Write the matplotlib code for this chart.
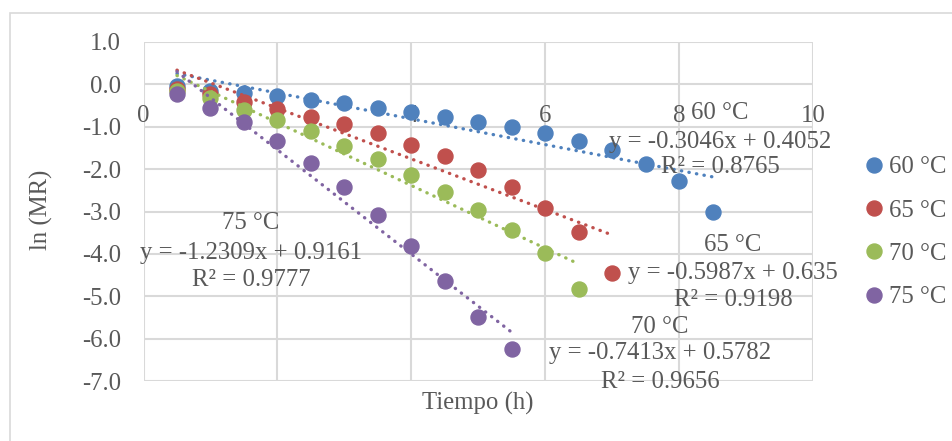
import matplotlib
matplotlib.use("Agg")
import matplotlib.pyplot as plt
import numpy as np
from matplotlib.patches import Rectangle

plt.rcParams['font.family'] = ['Liberation Serif', 'DejaVu Serif']
plt.rcParams['axes.unicode_minus'] = False

# ---- data ----
labels = ['60 °C', '65 °C', '70 °C', '75 °C']
colors = ['#4F81BD', '#C0504D', '#9BBB59', '#8064A2']
x60 = [0.5, 1.0, 1.5, 2.0, 2.5, 3.0, 3.5, 4.0, 4.5, 5.0, 5.5, 6.0, 6.5, 7.0, 7.5, 8.0, 8.5]
y60 = [-0.05, -0.16, -0.20, -0.27, -0.37, -0.44, -0.55, -0.65, -0.77, -0.88, -1.01, -1.15, -1.33, -1.56, -1.89, -2.28, -3.02]
x65 = [0.5, 1.0, 1.5, 2.0, 2.5, 3.0, 3.5, 4.0, 4.5, 5.0, 5.5, 6.0, 6.5, 7.0]
y65 = [-0.10, -0.23, -0.41, -0.58, -0.76, -0.94, -1.15, -1.43, -1.70, -2.03, -2.42, -2.91, -3.49, -4.44]
x70 = [0.5, 1.0, 1.5, 2.0, 2.5, 3.0, 3.5, 4.0, 4.5, 5.0, 5.5, 6.0, 6.5]
y70 = [-0.15, -0.31, -0.60, -0.84, -1.11, -1.46, -1.77, -2.13, -2.55, -2.96, -3.43, -3.98, -4.83]
x75 = [0.5, 1.0, 1.5, 2.0, 2.5, 3.0, 3.5, 4.0, 4.5, 5.0, 5.5]
y75 = [-0.23, -0.55, -0.88, -1.33, -1.86, -2.43, -3.08, -3.82, -4.64, -5.50, -6.24]
slopes = [-0.3046, -0.5987, -0.7413, -1.2309]
intercepts = [0.4052, 0.635, 0.5782, 0.9161]
r2 = [0.8765, 0.9198, 0.9656, 0.9777]
xticks = [0, 2, 4, 6, 8, 10]
yticks = [1.0, 0.0, -1.0, -2.0, -3.0, -4.0, -5.0, -6.0, -7.0]

xs = [x60, x65, x70, x75]
ys = [y60, y65, y70, y75]

W, H = 952, 441
fig = plt.figure(figsize=(W / 100, H / 100), dpi=100)
txt = '#595959'
grid = '#D9D9D9'
fs = 17.8

# outer chart border
fig.patches.append(Rectangle((10 / W, 0 - 0.05), 1.0, 1 - 13 / H + 0.05,
                             transform=fig.transFigure, fill=False,
                             edgecolor=grid, lw=1.2))

L, R, T, B = 143.5, 813.3, 42, 381
ax = fig.add_axes([L / W, 1 - B / H, (R - L) / W, (B - T) / H])
ax.set_xlim(0, 10)
ax.set_ylim(-7, 1)
ax.set_xticks(xticks)
ax.set_yticks(yticks)
ax.set_yticklabels([f"{v:.1f}" for v in yticks])
ax.grid(True, color=grid, lw=1.5)
ax.set_axisbelow(True)
for s in ['top', 'right', 'left']:
    ax.spines[s].set_visible(False)
ax.spines['bottom'].set_position(('data', 0))
ax.spines['bottom'].set_visible(False)
ax.tick_params(axis='both', length=0, labelsize=fs, labelcolor=txt)
ax.tick_params(axis='y', pad=16)
ax.tick_params(axis='x', pad=15)

for x, y, c, lab, m, b in zip(xs, ys, colors, labels, slopes, intercepts):
    ax.plot(x, y, 'o', color=c, ms=10.8, label=lab, zorder=3, clip_on=False)
    xt = np.array([min(x), max(x)])
    ax.plot(xt, m * xt + b, color=c, lw=2.4, linestyle=(0, (0.1, 2.2)),
            dash_capstyle='round', zorder=4)

# trendline labels (pixel centers)
label_pos = [(720, 113, 142, 167), (733, 245, 273, 300), (660, 327, 353, 382), (251, 223, 253, 280)]
for lab, m, b, r, (cx, y1, y2, y3) in zip(labels, slopes, intercepts, r2, label_pos):
    fig.text(cx / W, 1 - y1 / H, lab, ha='center', va='center', fontsize=fs, color=txt, zorder=10)
    fig.text(cx / W, 1 - y2 / H, f"y = {m}x + {b}", ha='center', va='center', fontsize=fs, color=txt, zorder=10)
    fig.text(cx / W, 1 - y3 / H, f"R² = {r}", ha='center', va='center', fontsize=fs, color=txt, zorder=10)

ax.set_ylabel('ln (MR)', fontsize=fs, color=txt)
ax.yaxis.set_label_coords((41 - L) / (R - L), (B - 210) / (B - T))
ax.yaxis.label.set_va('center')
fig.text(478 / W, 1 - 403 / H, 'Tiempo (h)', ha='center', va='center', fontsize=fs, color=txt)

leg = ax.legend(loc='upper left', bbox_to_anchor=(867 / W, 1 - 156 / H),
                bbox_transform=fig.transFigure, frameon=False, fontsize=fs,
                handlelength=0.6, handletextpad=0.3, labelspacing=0.85,
                borderpad=0, borderaxespad=0, markerscale=1.0)
for t in leg.get_texts():
    t.set_color(txt)

fig.savefig('out.png', dpi=100)
